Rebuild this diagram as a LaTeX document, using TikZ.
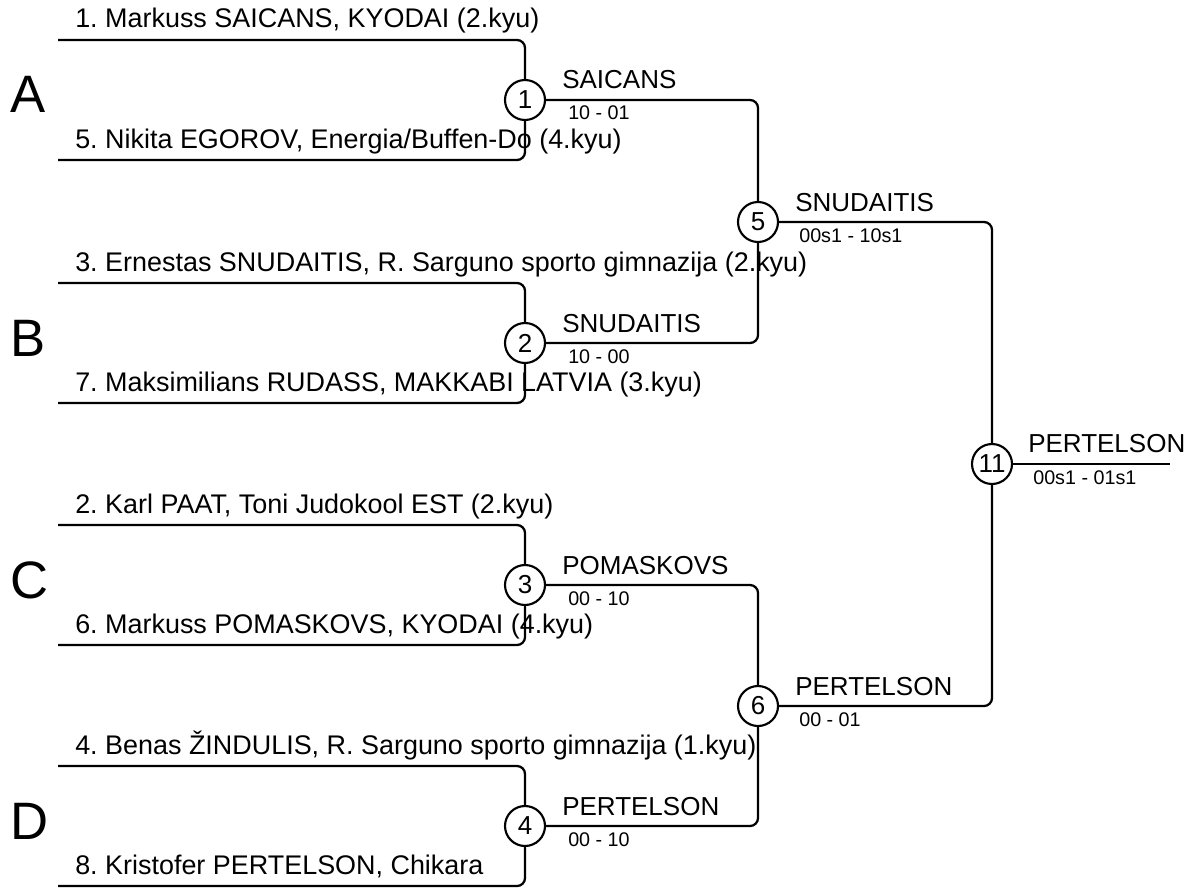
\documentclass[tikz,border=0pt]{standalone}
\usepackage{fontspec}
\setmainfont{Liberation Sans}
\usetikzlibrary{calc}
\frenchspacing

\begin{document}
\begin{tikzpicture}[x=0.75pt, y=-0.75pt,
    wire/.style={line width=1.7pt, rounded corners=6pt},
    bout/.style={circle, draw, line width=1.6pt, fill=white, minimum size=30pt, inner sep=0pt,
        font=\fontsize{19.5}{20}\selectfont},
    entrant/.style={anchor=base west, inner sep=0pt, font=\fontsize{20.2}{21}\selectfont},
    pool/.style={anchor=base west, inner sep=0pt, font=\fontsize{39.5}{40}\selectfont},
    winner/.style={anchor=base west, inner sep=0pt, font=\fontsize{19.5}{20}\selectfont},
    score/.style={anchor=base west, inner sep=0pt, font=\fontsize{14.8}{15}\selectfont}]

    \useasboundingbox (0,0) rectangle (1191,888);

    % Pools
    \node[pool] (poolA) at (10,113) {A};
    \node[pool] (poolB) at (10,356) {B};
    \node[pool] (poolC) at (10,598) {C};
    \node[pool] (poolD) at (10,839) {D};

    % Entrants
    \node[entrant] (p1) at (75,28)  {1. Markuss SAICANS, KYODAI (2.kyu)};
    \node[entrant] (p5) at (75,148) {5. Nikita EGOROV, Energia/Buffen-Do (4.kyu)};
    \node[entrant] (p3) at (75,271) {3. Ernestas SNUDAITIS, R. Sarguno sporto gimnazija (2.kyu)};
    \node[entrant] (p7) at (75,391) {7. Maksimilians RUDASS, MAKKABI LATVIA (3.kyu)};
    \node[entrant] (p2) at (75,513) {2. Karl PAAT, Toni Judokool EST (2.kyu)};
    \node[entrant] (p6) at (75,633) {6. Markuss POMASKOVS, KYODAI (4.kyu)};
    \node[entrant] (p4) at (75,754) {4. Benas ŽINDULIS, R. Sarguno sporto gimnazija (1.kyu)};
    \node[entrant] (p8) at (75,874) {8. Kristofer PERTELSON, Chikara};

    \coordinate (e1) at (58,40);
    \coordinate (e5) at (58,160);
    \coordinate (e3) at (58,283);
    \coordinate (e7) at (58,403);
    \coordinate (e2) at (58,525);
    \coordinate (e6) at (58,645);
    \coordinate (e4) at (58,766);
    \coordinate (e8) at (58,886);
    \coordinate (fin) at (1170,464);

    % Bouts
    \node[bout] (bout1)  at (525,100) {1};
    \node[bout] (bout2)  at (525,343) {2};
    \node[bout] (bout3)  at (525,585) {3};
    \node[bout] (bout4)  at (525,826) {4};
    \node[bout] (bout5)  at (758,222) {5};
    \node[bout] (bout6)  at (758,706) {6};
    \node[bout] (bout11) at (992,464) {11};

    % Bracket lines
    \draw[wire] (e1) -| (bout1);
    \draw[wire] (e5) -| (bout1);
    \draw[wire] (e3) -| (bout2);
    \draw[wire] (e7) -| (bout2);
    \draw[wire] (e2) -| (bout3);
    \draw[wire] (e6) -| (bout3);
    \draw[wire] (e4) -| (bout4);
    \draw[wire] (e8) -| (bout4);

    \draw[wire] (bout1) -| (bout5);
    \draw[wire] (bout2) -| (bout5);
    \draw[wire] (bout3) -| (bout6);
    \draw[wire] (bout4) -| (bout6);
    \draw[wire] (bout5) -| (bout11);
    \draw[wire] (bout6) -| (bout11);
    \draw[wire] (bout11) -- (fin);

    % Winners and scores
    \node[winner] (w1) at ($(bout1)+(37,-11)$) {SAICANS};
    \node[score]  (s1) at ($(bout1)+(43,20)$)  {10 - 01};
    \node[winner] (w2) at ($(bout2)+(37,-11)$) {SNUDAITIS};
    \node[score]  (s2) at ($(bout2)+(43,20)$)  {10 - 00};
    \node[winner] (w3) at ($(bout3)+(37,-11)$) {POMASKOVS};
    \node[score]  (s3) at ($(bout3)+(43,20)$)  {00 - 10};
    \node[winner] (w4) at ($(bout4)+(37,-11)$) {PERTELSON};
    \node[score]  (s4) at ($(bout4)+(43,20)$)  {00 - 10};
    \node[winner] (w5) at ($(bout5)+(37,-11)$) {SNUDAITIS};
    \node[score]  (s5) at ($(bout5)+(41,20)$)  {00s1 - 10s1};
    \node[winner] (w6) at ($(bout6)+(37,-11)$) {PERTELSON};
    \node[score]  (s6) at ($(bout6)+(41,20)$)  {00 - 01};
    \node[winner] (w11) at ($(bout11)+(36,-12)$) {PERTELSON};
    \node[score]  (s11) at ($(bout11)+(41,20)$) {00s1 - 01s1};

\end{tikzpicture}
\end{document}
